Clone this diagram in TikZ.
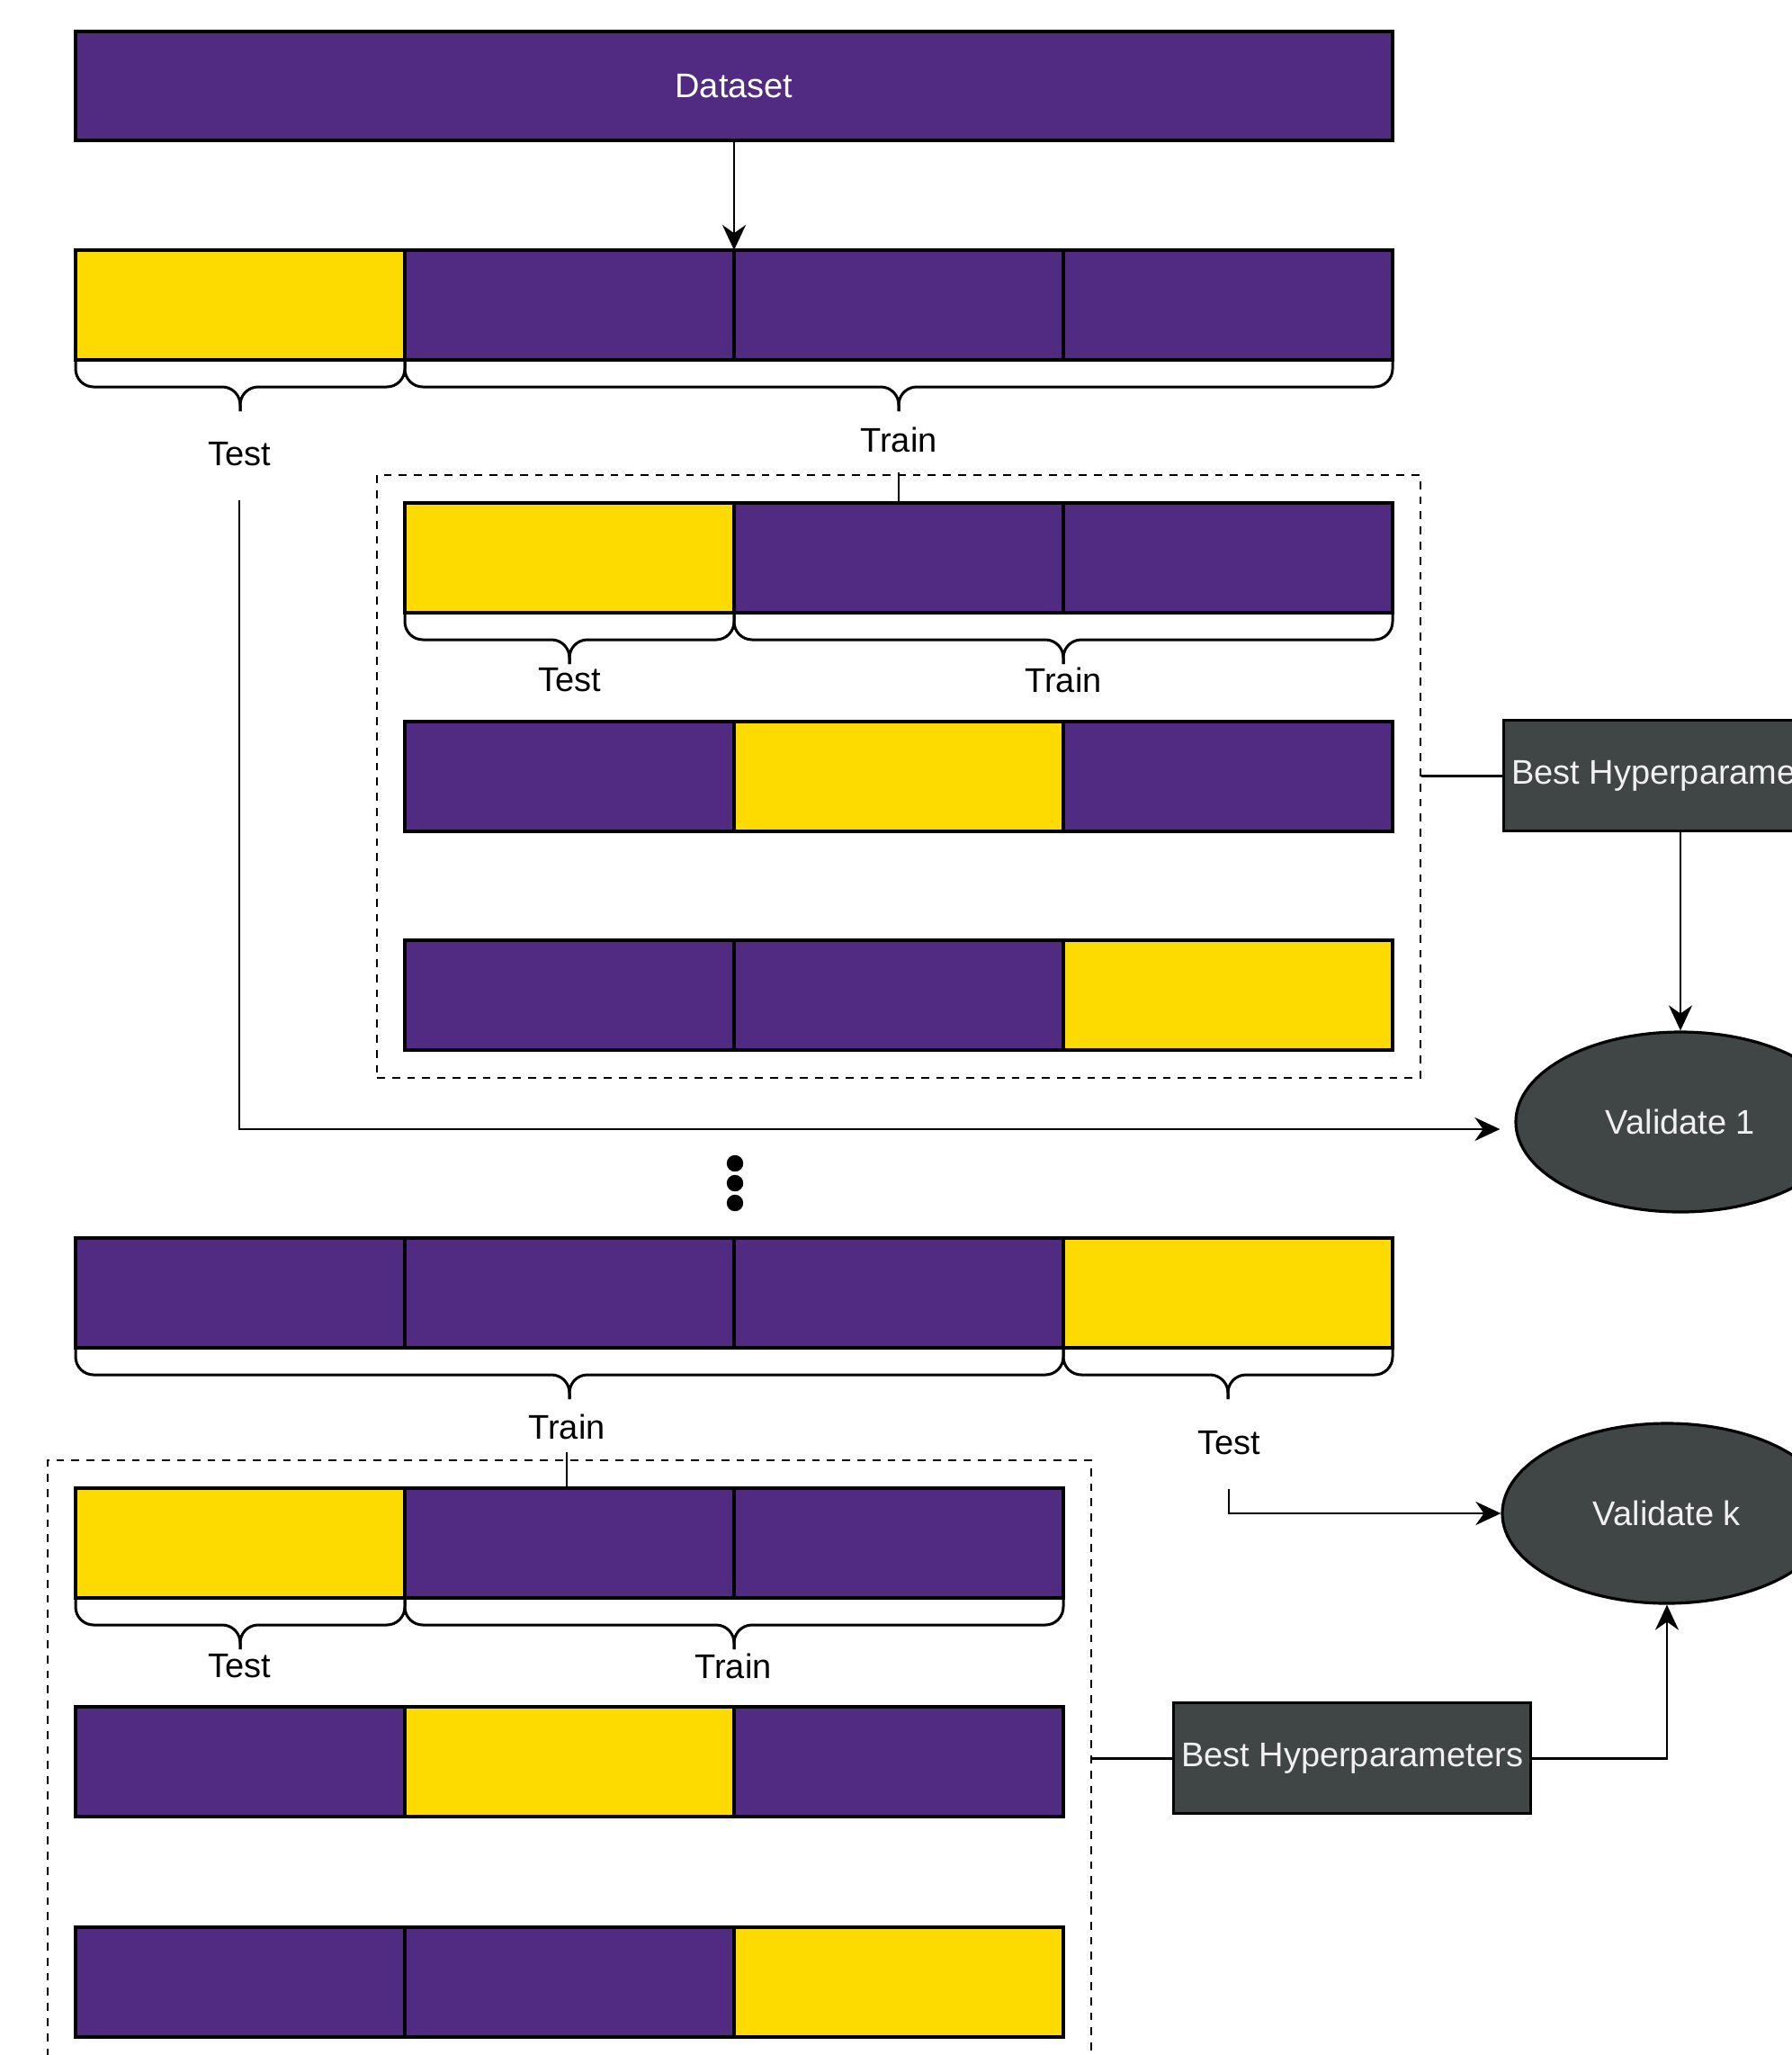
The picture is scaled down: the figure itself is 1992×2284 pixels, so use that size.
\documentclass[tikz,border=0pt]{standalone}
\usepackage{fontspec}
\setmainfont{Liberation Sans}
\usepackage{xcolor}
\usetikzlibrary{positioning,shapes.geometric,arrows.meta,calc,fit}
\definecolor{foldpurple}{HTML}{512B82}
\definecolor{foldgold}{HTML}{FDDB00}
\definecolor{modelgrey}{HTML}{404545}
% curly brace under a run of cells: from #1 to #2
\newcommand{\splitbrace}[2]{%
  \draw[brace] (#1) -- ++(0,30) -| ($(#1)!0.5!(#2)+(0,57)$);
  \draw[brace] (#2) -- ++(0,30) -| ($(#1)!0.5!(#2)+(0,57)$);}

\begin{document}
\begin{tikzpicture}[
  x=0.25pt, y=-0.25pt,
  font=\fontsize{9.5}{11}\selectfont,
  node distance=0pt,
  cell/.style={rectangle, draw, line width=0.8pt, outer sep=0pt, minimum width=91.5pt, minimum height=30.5pt},
  tr/.style={cell, fill=foldpurple},
  te/.style={cell, fill=foldgold},
  data/.style={cell, fill=foldpurple, text=white, minimum width=366pt, minimum height=30.25pt},
  best/.style={rectangle, draw, line width=0.8pt, fill=modelgrey, text=white!94!black, inner xsep=0.5pt, minimum width=99.25pt, minimum height=30.75pt},
  val/.style={ellipse, draw, line width=0.8pt, fill=modelgrey, text=white!94!black, minimum width=91.5pt, minimum height=50pt, inner sep=0pt},
  sub/.style={rectangle, draw, line width=0.7pt, dash pattern=on 2.2pt off 2pt, inner sep=7.75pt},
  brace/.style={rounded corners=5pt, line width=0.75pt},
  line/.style={line width=0.7pt},
  arr/.style={-{Stealth[length=7pt, width=6.5pt]}, line width=0.7pt}
]
\useasboundingbox (0,0) rectangle (1992,2284);
\clip (0,0) rectangle (1992,2284);
% Dataset
\node[data, anchor=north west] (data) at (84,35) {Dataset};
% Outer split 1
\node[te, anchor=north west] (r1a) at (84,278) {};
\node[tr, right=of r1a] (r1b) {};
\node[tr, right=of r1b] (r1c) {};
\node[tr, right=of r1c] (r1d) {};
\splitbrace{r1a.south west}{r1a.south east}
\splitbrace{r1b.south west}{r1d.south east}
\node (t1) at (266,505) {Test};
\node (tr1) at (999,489) {Train};
% Inner folds 1
\node[te, anchor=north west] (rAa) at (450,559) {};
\node[tr, right=of rAa] (rAb) {};
\node[tr, right=of rAb] (rAc) {};
\splitbrace{rAa.south west}{rAa.south east}
\splitbrace{rAb.south west}{rAc.south east}
\node (tA) at (633,756) {Test};
\node (trA) at (1182,756) {Train};
\node[tr, anchor=north west] (rBa) at (450,802) {};
\node[te, right=of rBa] (rBb) {};
\node[tr, right=of rBb] (rBc) {};
\node[tr, anchor=north west] (rCa) at (450,1045) {};
\node[tr, right=of rCa] (rCb) {};
\node[te, right=of rCb] (rCc) {};
\node[sub, fit=(rAa)(rCc)] (cv1) {};
\node[best, anchor=north west] (bh1) at (1670,799) {Best Hyperparameters};
\node[val] (v1) at (1868,1247) {Validate 1};
% dots
\fill (817,1293) circle (2.3pt);
\fill (817,1315) circle (2.3pt);
\fill (817,1337) circle (2.3pt);
% Outer split k
\node[tr, anchor=north west] (rka) at (84,1376) {};
\node[tr, right=of rka] (rkb) {};
\node[tr, right=of rkb] (rkc) {};
\node[te, right=of rkc] (rkd) {};
\splitbrace{rka.south west}{rkc.south east}
\splitbrace{rkd.south west}{rkd.south east}
\node (trk) at (630,1586) {Train};
\node (tk) at (1366,1604) {Test};
% Inner folds k
\node[te, anchor=north west] (rA2a) at (84,1654) {};
\node[tr, right=of rA2a] (rA2b) {};
\node[tr, right=of rA2b] (rA2c) {};
\splitbrace{rA2a.south west}{rA2a.south east}
\splitbrace{rA2b.south west}{rA2c.south east}
\node (tA2) at (266,1852) {Test};
\node (trA2) at (815,1852) {Train};
\node[tr, anchor=north west] (rB2a) at (84,1897) {};
\node[te, right=of rB2a] (rB2b) {};
\node[tr, right=of rB2b] (rB2c) {};
\node[tr, anchor=north west] (rC2a) at (84,2142) {};
\node[tr, right=of rC2a] (rC2b) {};
\node[te, right=of rC2b] (rC2c) {};
\node[sub, fit=(rA2a)(rC2c)] (cv2) {};
\node[best, anchor=north west] (bh2) at (1303,1891) {Best Hyperparameters};
\node[val] (vk) at (1853,1682) {Validate k};
% arrows
\draw[arr] (data.south) -- (r1b.north east);
\draw[line, shorten <=2pt] (tr1.south) -- (tr1.south |- rAb.north);
\draw[line] (cv1.east |- bh1.west) -- (bh1.west);
\draw[arr] (v1.north |- bh1.south) -- (v1.north);
\draw[arr, shorten <=6pt, shorten >=4pt] (t1.south) |- ($(v1.west)+(0,8)$);
\draw[line] (trk.south) -- (trk.south |- rA2b.north);
\draw[line] (cv2.east |- bh2.west) -- (bh2.west);
\draw[arr] (bh2.east) -| (vk.south);
\draw[arr, shorten <=6pt] (tk.south) |- (vk.west);
\end{tikzpicture}
\end{document}
